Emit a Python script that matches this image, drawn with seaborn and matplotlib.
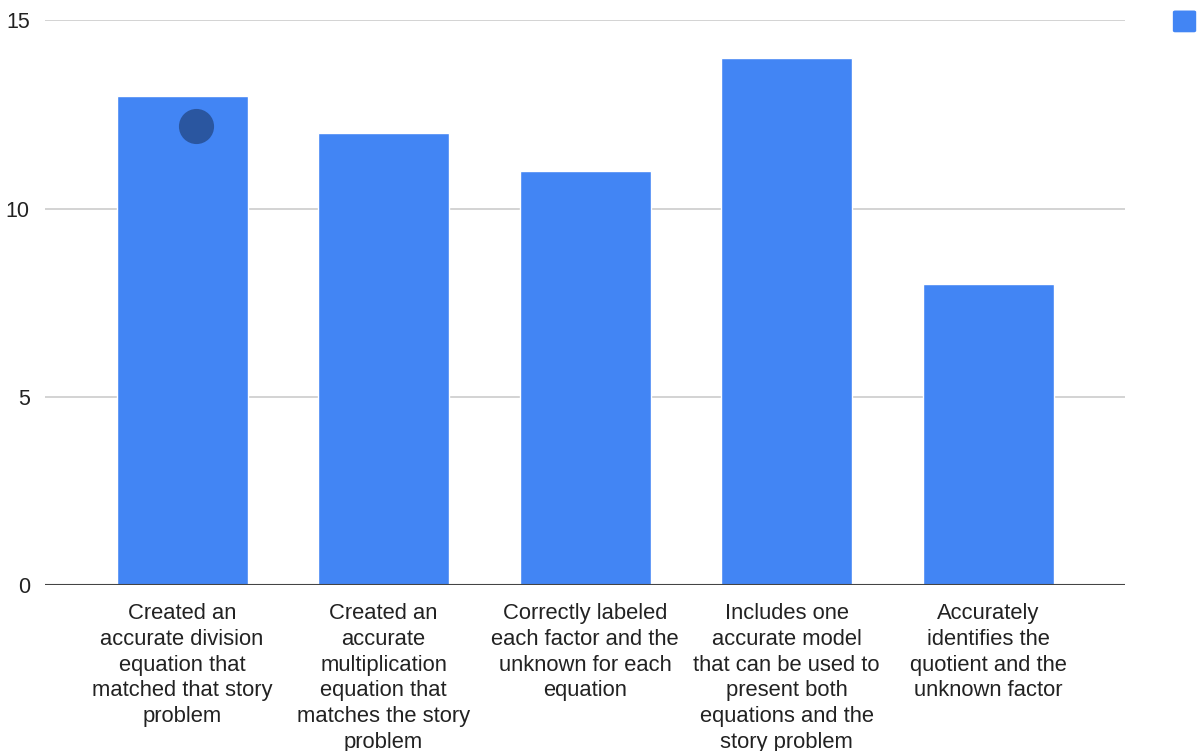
import numpy as np
import pandas as pd
import matplotlib.pyplot as plt
import seaborn as sns
from matplotlib.patches import FancyBboxPatch

categories = [
    "Created an\naccurate division\nequation that\nmatched that story\nproblem",
    "Created an\naccurate\nmultiplication\nequation that\nmatches the story\nproblem",
    "Correctly labeled\neach factor and the\nunknown for each\nequation",
    "Includes one\naccurate model\nthat can be used to\npresent both\nequations and the\nstory problem",
    "Accurately\nidentifies the\nquotient and the\nunknown factor",
]
values = [13, 12, 11, 14, 8]
# stray dot sitting on the first bar
dot_x = [0.07]
dot_y = [12.2]

sns.set_theme(style="white")
plt.rcParams['font.family'] = ['Liberation Sans', 'DejaVu Sans']

df = pd.DataFrame({"cat": categories, "val": values})

fig = plt.figure(figsize=(11.98, 7.51), dpi=100)
ax = fig.add_axes([0.0376, 0.221, 0.9015, 0.752])

sns.barplot(data=df, x="cat", y="val", color="#4285f4", saturation=1,
            width=0.65, ax=ax, zorder=2)
ax.scatter(dot_x, dot_y, s=640, color="#2a56a0", zorder=3, linewidths=0)

ax.set_ylim(0, 15)
ax.set_xlim(-0.68, 4.68)
ax.set_yticks([0, 5, 10, 15])
ax.yaxis.grid(True, color="#d0d0d0", linewidth=1.3, zorder=0)
ax.axhline(0, color="#444444", linewidth=1.5, zorder=4)
for s in ax.spines.values():
    s.set_visible(False)
ax.set_xlabel("")
ax.set_ylabel("")
ax.tick_params(axis="y", length=0, pad=11, labelsize=15.5, labelcolor="#222222")
ax.tick_params(axis="x", length=0, pad=13, labelsize=15.8, labelcolor="#222222")
for t in ax.get_xticklabels():
    t.set_linespacing(1.3)
    t.set_va("top")

# legend swatch (label is cut off in the original)
swatch = FancyBboxPatch((0.9800, 0.958), 0.0175, 0.027,
                        boxstyle="round,pad=0.001,rounding_size=0.002",
                        transform=fig.transFigure, facecolor="#4285f4",
                        edgecolor="none")
fig.add_artist(swatch)

plt.savefig("out.png", dpi=100)
